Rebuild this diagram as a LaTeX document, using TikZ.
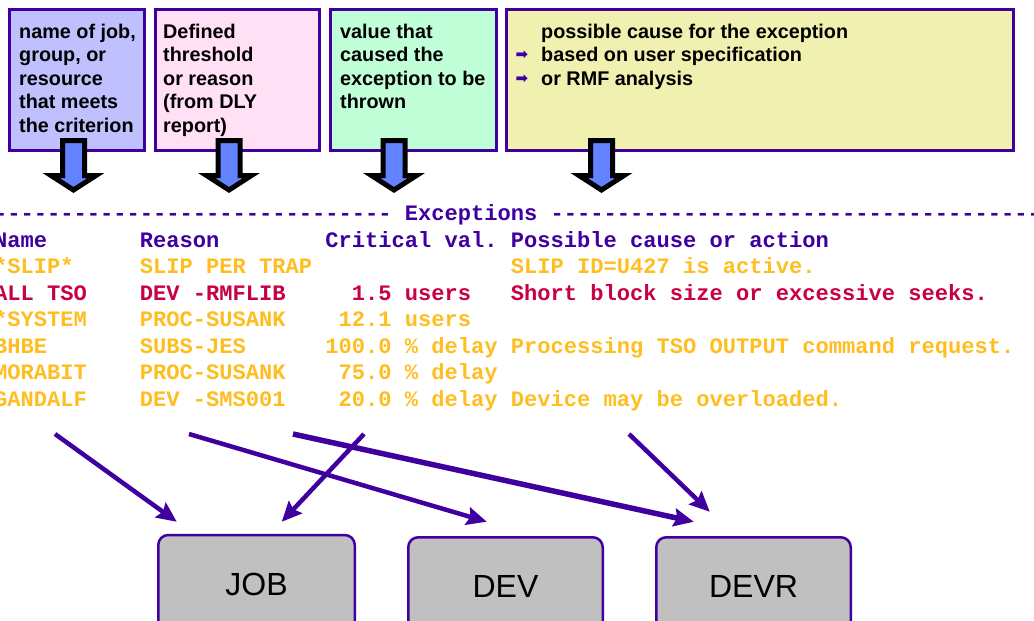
\documentclass[tikz,border=0pt]{standalone}
\usepackage{fontspec}
\setmainfont{Liberation Sans}
\setmonofont{Liberation Mono}
\newfontfamily\dingfont{DejaVu Sans}
\usetikzlibrary{arrows.meta}

\definecolor{frame}{RGB}{64,0,160}
\definecolor{lavender}{RGB}{192,192,255}
\definecolor{rosy}{RGB}{255,224,244}
\definecolor{mint}{RGB}{192,255,216}
\definecolor{straw}{RGB}{240,240,176}
\definecolor{blockblue}{RGB}{98,130,255}
\definecolor{warn}{RGB}{255,190,32}
\definecolor{alert}{RGB}{200,0,70}
\definecolor{boxgray}{RGB}{192,192,192}

\tikzset{
  topbox/.style={draw=frame, line width=2.5pt, anchor=north west, inner sep=0pt},
  boxtext/.style={anchor=north west, inner sep=0pt, align=left,
    font=\fontsize{19.8}{23.5}\selectfont\bfseries},
  bullet/.style={inner sep=0pt, text=frame, font=\fontsize{15}{16}\dingfont\bfseries},
  rpt/.style={anchor=base west, inner sep=0pt,
    font=\fontsize{22.08}{26.5}\selectfont\ttfamily\bfseries},
  blockarrow/.style={draw=black, line width=5pt, fill=blockblue, line join=miter},
  link/.style={draw=frame, line width=4.5pt,
    -{Stealth[length=20pt,width=18pt,inset=3pt]}},
  resbox/.style={draw=frame, line width=2.5pt, fill=boxgray, rounded corners=10pt,
    minimum height=98pt, inner sep=0pt, font=\fontsize{32}{36}\selectfont}
}

% thick down-pointing block arrow centred at x = #1
\newcommand\downblock[1]{%
  \path[blockarrow] (#1-11,140.5) -- (#1+11,140.5) -- (#1+11,175.5) -- (#1+22.5,175.5)
    -- (#1,190) -- (#1-22.5,175.5) -- (#1-11,175.5) -- cycle;}

\begin{document}
\begin{tikzpicture}[x=1pt,y=-1pt]
\useasboundingbox (0,0) rectangle (1034,621);
\clip (0,0) rectangle (1034,621);

% legend boxes
\node[topbox, fill=lavender, minimum width=135pt, minimum height=141pt] (b1) at (8.25,8.25) {};
\node[topbox, fill=rosy, minimum width=164pt, minimum height=141pt] (b2) at (154.25,8.25) {};
\node[topbox, fill=mint, minimum width=166pt, minimum height=141pt] (b3) at (329.25,8.25) {};
\node[topbox, fill=straw, minimum width=507pt, minimum height=141pt] (b4) at (505.25,8.25) {};

\node[boxtext] (t1) at (19,23.6) {name of job,\\group, or\\resource\\that meets\\the criterion};
\node[boxtext] (t2) at (163,23.6) {Defined\\threshold\\or reason\\(from DLY\\report)};
\node[boxtext] (t3) at (340,23.6) {value that\\caused the\\exception to be\\thrown};
\node[boxtext] (t4) at (541,23.6) {possible cause for the exception\\based on user specification\\or RMF analysis};
\node[bullet] (u1) at (522,55.5) {➡};
\node[bullet] (u2) at (522,79) {➡};

% block arrows pointing into the report
\downblock{73.5}
\downblock{229}
\downblock{394}
\downblock{601.5}

% exception report
\node[rpt, text=frame] (r0) at (-6,220) {------------------------------~Exceptions~----------------------------------------};
\node[rpt, text=frame] (r1) at (-6,247) {Name~~~~~~~Reason~~~~~~~~Critical~val.~Possible~cause~or~action};
\node[rpt, text=warn]  (r2) at (-6,273) {*SLIP*~~~~~SLIP~PER~TRAP~~~~~~~~~~~~~~~SLIP~ID=U427~is~active.};
\node[rpt, text=alert] (r3) at (-6,300) {ALL~TSO~~~~DEV~-RMFLIB~~~~~1.5~users~~~Short~block~size~or~excessive~seeks.};
\node[rpt, text=warn]  (r4) at (-6,326) {*SYSTEM~~~~PROC-SUSANK~~~~12.1~users};
\node[rpt, text=warn]  (r5) at (-6,353) {BHBE~~~~~~~SUBS-JES~~~~~~100.0~\%~delay~Processing~TSO~OUTPUT~command~request.};
\node[rpt, text=warn]  (r6) at (-6,379) {MORABIT~~~~PROC-SUSANK~~~~75.0~\%~delay};
\node[rpt, text=warn]  (r7) at (-6,406) {GANDALF~~~~DEV~-SMS001~~~~20.0~\%~delay~Device~may~be~overloaded.};

% report types
\node[resbox, minimum width=196.5pt] (job)  at (256.5,584) {JOB};
\node[resbox, minimum width=194.5pt] (dev)  at (505.5,586.25) {DEV};
\node[resbox, minimum width=194.5pt] (devr) at (753.5,586.25) {DEVR};

% arrow tails under the report rows
\coordinate (s1) at (55,434);
\coordinate (s2) at (189,434);
\coordinate (s3) at (293,434);
\coordinate (s4) at (364,434);
\coordinate (s5) at (629,434);

\draw[link] (s1) -- ([xshift=19.75pt,yshift=12pt]job.north west);
\draw[link] (s4) -- ([xshift=124.75pt,yshift=12pt]job.north west);
\draw[link] (s2) -- ([xshift=79.75pt,yshift=14.25pt]dev.north west);
\draw[link, line width=5.5pt] (s3) -- ([xshift=38.75pt,yshift=14.25pt]devr.north west);
\draw[link] (s5) -- ([xshift=54.75pt,yshift=24.25pt]devr.north west);
\end{tikzpicture}
\end{document}
